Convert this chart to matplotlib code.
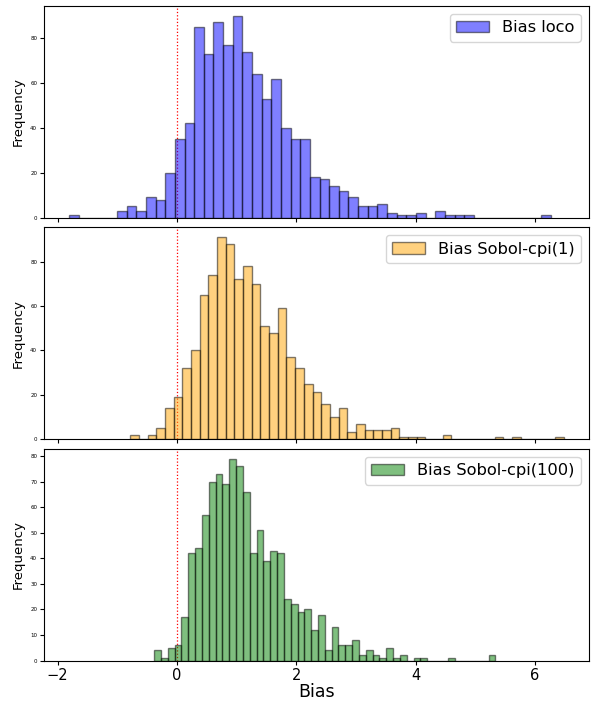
import numpy as np
import matplotlib
matplotlib.use("Agg")
import matplotlib.pyplot as plt

# histogram counts (50 bins each, 1000 runs)
loco_range = (-1.81, 6.27)
loco_counts = [1, 0, 0, 0, 0, 3, 5, 3, 9, 8,
               20, 35, 42, 85, 73, 87, 77, 90, 74, 64,
               53, 62, 40, 35, 35, 18, 17, 14, 12, 9,
               5, 5, 6, 2, 1, 1, 2, 0, 3, 1,
               1, 1, 0, 0, 0, 0, 0, 0, 0, 1]

cpi1_range = (-0.78, 6.49)
cpi1_counts = [2, 0, 2, 5, 14, 19, 32, 40, 65, 74,
               91, 88, 72, 78, 70, 51, 48, 59, 37, 32,
               25, 21, 16, 10, 14, 3, 7, 4, 4, 4,
               5, 1, 1, 1, 0, 0, 2, 0, 0, 0,
               0, 0, 1, 0, 1, 0, 0, 0, 0, 1]

cpi100_range = (-0.38, 5.34)
cpi100_counts = [4, 1, 5, 6, 17, 42, 44, 57, 70, 73,
                 69, 79, 76, 66, 42, 51, 39, 43, 42, 24,
                 22, 19, 20, 12, 18, 4, 13, 6, 6, 8,
                 2, 4, 2, 1, 5, 1, 2, 0, 1, 1,
                 0, 0, 0, 1, 0, 0, 0, 0, 0, 2]

labels = ['Bias loco', 'Bias Sobol-cpi(1)', 'Bias Sobol-cpi(100)']
colors = ['blue', 'orange', 'green']
ranges = [loco_range, cpi1_range, cpi100_range]
counts = [loco_counts, cpi1_counts, cpi100_counts]

fig, axes = plt.subplots(3, 1, figsize=(5.96, 7.02), dpi=100, sharex=True)
fig.subplots_adjust(left=0.074, right=0.988, top=0.992, bottom=0.059, hspace=0.045)

for ax, rng, c, col, lab in zip(axes, ranges, counts, colors, labels):
    edges = np.linspace(rng[0], rng[1], len(c) + 1)
    centers = (edges[:-1] + edges[1:]) / 2
    ax.axvline(0, color='red', linestyle=':', linewidth=0.9, zorder=0)
    ax.hist(centers, bins=edges, weights=c, color=col, alpha=0.5,
            edgecolor='black', label=lab)
    ax.set_ylabel('Frequency', fontsize=9.5)
    ax.tick_params(axis='y', labelsize=4, length=3, pad=2)
    ax.tick_params(axis='x', labelsize=10.5, length=3, pad=2)
    ax.legend(loc='upper right', fontsize=11.7)

axes[2].set_yticks(range(0, 81, 10))
axes[2].set_xlabel('Bias', fontsize=12.5, labelpad=0)

fig.savefig('out.png')
